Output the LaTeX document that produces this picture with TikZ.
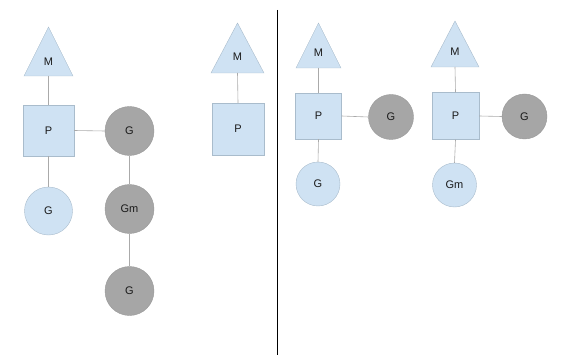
\documentclass[tikz,border=0pt]{standalone}
\usepackage{fontspec}
\setmainfont{Liberation Sans}
\definecolor{lblue}{HTML}{CFE2F3}
\definecolor{lblueb}{HTML}{A9BCCC}
\definecolor{gfill}{HTML}{A6A6A6}
\definecolor{gbord}{HTML}{999999}
\definecolor{wire}{HTML}{AAAAAA}
\begin{document}
\begin{tikzpicture}[x=1pt,y=-1pt,
  every node/.style={font=\fontsize{11}{13}\selectfont, text=black!90, inner sep=0pt},
  tri/.style={draw=lblueb, fill=lblue},
  psq/.style={draw=lblueb, fill=lblue, rectangle, minimum width=#1, minimum height=#1},
  gcirc/.style={draw=gbord, fill=gfill, circle, minimum size=#1},
  bcirc/.style={draw=lblueb, fill=lblue, circle, minimum size=#1},
  wirel/.style={draw=wire, line width=0.6pt}]
\useasboundingbox (0,0) rectangle (585,355);
% divider
\coordinate (dtop) at (277,10);
\coordinate (dbot) at (277,355);
\draw[line width=1pt] (dtop) -- (dbot);

% group 1
\path[tri] (48.5,27) -- (73,76) -- (24,76) -- cycle;
\coordinate (m1) at (48.5,76);
\node (m1t) at (48.5,62) {M};
\node[psq=51] (p1) at (48.5,130.5) {P};
\node[gcirc=49] (g1) at (129.5,131) {G};
\node[bcirc=48] (gb1) at (48.5,211) {G};
\node[gcirc=49] (gm1) at (129.5,209) {Gm};
\node[gcirc=49] (g1b) at (129.5,291) {G};
\draw[wirel] (m1) -- (p1.north);
\draw[wirel] (p1.south) -- (gb1.north);
\draw[wirel] (p1.east) -- (g1.west);
\draw[wirel] (g1.south) -- (gm1.north);
\draw[wirel] (gm1.south) -- (g1b.north);

% group 2
\path[tri] (237.5,23) -- (264,73) -- (211,73) -- cycle;
\coordinate (m2) at (237.5,73);
\node (m2t) at (237.5,57) {M};
\node[psq=52] (p2) at (238,129) {P};
\draw[wirel] (m2) -- (p2.north);

% group 3
\path[tri] (318.5,23) -- (341,68) -- (296,68) -- cycle;
\coordinate (m3) at (318.5,68);
\node (m3t) at (318.5,52.5) {M};
\node[psq=46] (p3) at (318.5,116) {P};
\node[gcirc=45] (g3) at (391,117) {G};
\node[bcirc=44] (gb3) at (318,184) {G};
\draw[wirel] (m3) -- (p3.north);
\draw[wirel] (p3.south) -- (gb3.north);
\draw[wirel] (p3.east) -- (g3.west);

% group 4
\path[tri] (455,21) -- (479,67) -- (431,67) -- cycle;
\coordinate (m4) at (455,67);
\node (m4t) at (455,51.5) {M};
\node[psq=47] (p4) at (455.5,116) {P};
\node[gcirc=45] (g4) at (524.5,116.5) {G};
\node[bcirc=44] (gm4) at (454.5,185) {Gm};
\draw[wirel] (m4) -- (p4.north);
\draw[wirel] (p4.south) -- (gm4.north);
\draw[wirel] (p4.east) -- (g4.west);
\end{tikzpicture}
\end{document}
